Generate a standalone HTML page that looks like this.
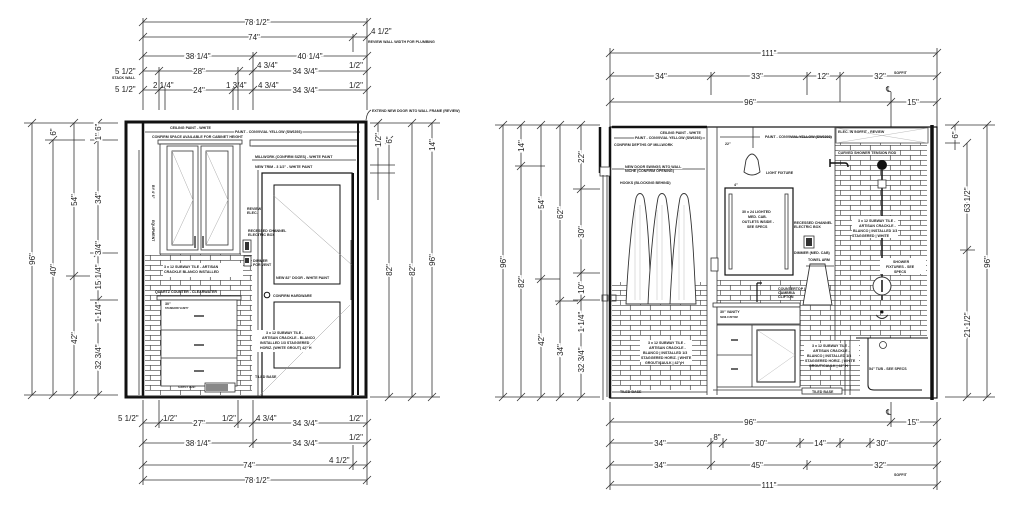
<!DOCTYPE html>
<html><head><meta charset="utf-8"><style>
html,body{margin:0;padding:0;background:#fff;}
svg{display:block}
.l{stroke:#333;stroke-width:.8;fill:none}
.k{stroke:#111;fill:none}
text{font-family:"Liberation Sans",sans-serif;fill:#222}
.t{font-size:8px;stroke:#fff;stroke-width:3;paint-order:stroke;text-anchor:middle}
.n{font-size:3.6px;font-weight:bold}
</style></head><body>
<svg width="1024" height="512" viewBox="0 0 1024 512" xmlns="http://www.w3.org/2000/svg">
<defs>
<pattern id="br" width="20" height="10" patternUnits="userSpaceOnUse">
<rect width="20" height="10" fill="#fff"/>
<path d="M0 0.3H20M0 5.3H20M0.3 0V5.3M10.3 5.3V10" stroke="#444" stroke-width=".7" fill="none"/>
</pattern>
</defs>

<g class="l">
<path d="M143 22H367M143 37H367M143 56H367M143 71H367M143 90H367"/>
<path d="M143 18V110M367 18V110M253 52V110M159 67V110M165 88V110M233 88V110M238 67V110M353 34V52"/>
<path d="M139 26l8-8M363 26l8-8M139 41l8-8M363 41l8-8M349 41l8-8M139 60l8-8M249 60l8-8M363 60l8-8M139 75l8-8M155 75l8-8M235 75l8-8M249 75l8-8M363 75l8-8M139 94l8-8M155 94l8-8M229 94l8-8M249 94l8-8M363 94l8-8"/>
</g>
<text class="t" x="257" y="25">78 1/2"</text>
<text class="t" x="254" y="40">74"</text>
<text x="371" y="34" style="font-size:8px">4 1/2"</text>
<text x="368" y="43" class="n">REVIEW WALL WIDTH FOR PLUMBING</text>
<text class="t" x="198" y="59">38 1/4"</text>
<text class="t" x="310" y="59">40 1/4"</text>
<text x="115" y="74" style="font-size:8px">5 1/2"</text>
<text x="112" y="79" class="n">STACK WALL</text>
<text class="t" x="199" y="74">28"</text>
<text x="257" y="68" style="font-size:8px">4 3/4"</text>
<text class="t" x="305" y="74">34 3/4"</text>
<text x="349" y="68" style="font-size:8px">1/2"</text>
<text x="115" y="92" style="font-size:8px">5 1/2"</text>
<text x="153" y="88" style="font-size:8px">2 1/4"</text>
<text class="t" x="199" y="93">24"</text>
<text x="226" y="88" style="font-size:8px">1 3/4"</text>
<text x="258" y="88" style="font-size:8px">4 3/4"</text>
<text class="t" x="305" y="93">34 3/4"</text>
<text x="349" y="88" style="font-size:8px">1/2"</text>
<text x="372" y="112" class="n">EXTEND NEW DOOR INTO WALL FRAME (REVIEW)</text>
<path class="l" d="M371 110q-4 2-5 10"/>

<g class="l">
<path d="M24 123H118M24 395H118M45 140H85M90 140H118M90 253H118M90 300H118M66 276H90"/>
<path d="M32 123V395M53 140V395M74 123V395M98 123V395"/>
<path d="M28 127l8-8M28 399l8-8M49 144l8-8M49 399l8-8M70 127l8-8M70 280l8-8M70 399l8-8M94 127l8-8M94 144l8-8M94 257l8-8M94 304l8-8M94 399l8-8"/>
</g>
<g style="font-size:8px">
<text class="t" transform="translate(35 259) rotate(-90)">96"</text>
<text class="t" transform="translate(56 270) rotate(-90)">40"</text>
<text class="t" transform="translate(77 200) rotate(-90)">54"</text>
<text class="t" transform="translate(77 338) rotate(-90)">42"</text>
<text class="t" transform="translate(101 132) rotate(-90)">1" 6"</text>
<text class="t" transform="translate(101 198) rotate(-90)">34"</text>
<text class="t" transform="translate(101 248) rotate(-90)">3/4"</text>
<text class="t" transform="translate(101 277) rotate(-90)">15 1/4"</text>
<text class="t" transform="translate(101 312) rotate(-90)">1 1/4"</text>
<text class="t" transform="translate(101 357) rotate(-90)">32 3/4"</text>
<text class="t" transform="translate(56 132) rotate(-90)">6"</text>
</g>

<g class="l">
<path d="M370 123H440M370 165H395M370 173H395M370 397H440"/>
<path d="M378 123V200M389 140V397M412 123V397M432 123V397"/>
<path d="M374 127l8-8M385 144l8-8M385 401l8-8M408 127l8-8M408 401l8-8M428 127l8-8M428 401l8-8"/>
</g>
<g style="font-size:8px">
<text class="t" transform="translate(392 270) rotate(-90)">82"</text>
<text class="t" transform="translate(415 270) rotate(-90)">82"</text>
<text class="t" transform="translate(435 260) rotate(-90)">96"</text>
<text class="t" transform="translate(435 145) rotate(-90)">14"</text>
<text class="t" transform="translate(381 140) rotate(-90)">1/2"</text>
<text class="t" transform="translate(392 140) rotate(-90)">6"</text>
</g>

<g class="l">
<path d="M143 423H367M143 443H367M143 465H367M143 480H367"/>
<path d="M143 400V485M367 400V485M159 400V428M238 400V428M253 400V448M353 445V470"/>
<path d="M139 427l8-8M155 427l8-8M234 427l8-8M249 427l8-8M363 427l8-8M139 447l8-8M249 447l8-8M363 447l8-8M139 469l8-8M349 469l8-8M363 469l8-8M139 484l8-8M363 484l8-8"/>
</g>
<text x="118" y="421" style="font-size:8px">5 1/2"</text>
<text x="163" y="421" style="font-size:8px">1/2"</text>
<text class="t" x="199" y="426">27"</text>
<text x="222" y="421" style="font-size:8px">1/2"</text>
<text x="256" y="421" style="font-size:8px">4 3/4"</text>
<text class="t" x="305" y="426">34 3/4"</text>
<text x="349" y="421" style="font-size:8px">1/2"</text>
<text class="t" x="198" y="446">38 1/4"</text>
<text class="t" x="305" y="446">34 3/4"</text>
<text x="349" y="440" style="font-size:8px">1/2"</text>
<text class="t" x="249" y="468">74"</text>
<text x="329" y="463" style="font-size:8px">4 1/2"</text>
<text class="t" x="257" y="483">78 1/2"</text>

<rect x="145" y="253" width="107" height="142" fill="url(#br)"/>
<rect x="126" y="122" width="240" height="275" class="k" stroke-width="3"/>
<path class="k" stroke-width="2.5" d="M143 123V397"/>
<path class="l" d="M139 150V395M128 396H366"/>
<path class="l" d="M145 132H360" />
<text x="170" y="129" class="n">CEILING PAINT - WHITE</text>
<text x="235" y="133" class="n" style="stroke:#fff;stroke-width:2;paint-order:stroke">PAINT - CONVIVIAL YELLOW (SW6393)</text>
<text x="152" y="138" class="n">CONFIRM SPACE AVAILABLE FOR CABINET HEIGHT</text>
<rect x="158" y="140" width="84" height="4" class="l" style="fill:#fff"/>
<rect x="160" y="144" width="80" height="110" class="l" style="fill:#fff"/>
<rect x="167" y="146" width="31" height="104" class="l"/>
<rect x="201" y="146" width="32" height="104" class="l"/>
<rect x="172" y="151" width="21" height="94" class="l"/>
<rect x="206" y="151" width="22" height="94" class="l"/>
<path stroke="#aaa" stroke-width=".5" fill="none" d="M172 151L193 200L172 245M206 151L228 200L206 245"/>
<path class="k" stroke-width="1.2" d="M195 236V248M203 236V248"/>
<text class="n" transform="translate(152 185) rotate(90)">BY 4' 6"</text>
<text class="n" transform="translate(152 220) rotate(90)">EQUIPMENT</text>
<rect x="163" y="263" width="80" height="14" fill="#fff"/>
<text x="164" y="268" class="n">3 x 12 SUBWAY TILE - ARTISAN</text>
<text x="164" y="273" class="n">CRACKLE BLANCO INSTALLED</text>
<text x="155" y="293" class="n">QUARTZ COUNTER - CLEARWATER</text>
<rect x="157" y="296" width="84" height="4" class="l" style="fill:#fff"/>
<rect x="161" y="300" width="76" height="86" class="l" style="fill:#fff"/>
<path class="l" d="M161 330H237M161 358H237"/>
<path class="k" stroke-width="1.3" d="M194 316H204M194 345H204M194 371H204"/>
<text x="165" y="305" class="n">30"</text>
<text x="165" y="309" class="n" style="font-size:2.5px">STANDARD VANITY</text>
<rect x="205" y="383" width="30" height="9" class="l" style="fill:#fff"/>
<path stroke="#111" stroke-width="1" d="M207 384v7M209 384v7M211 384v7M213 384v7M215 384v7M217 384v7M219 384v7M221 384v7M223 384v7M225 384v7M227 384v7"/>
<text x="178" y="388" class="n" style="font-size:2.6px">SUPPLY VENT</text>
<rect x="243" y="240" width="8" height="12" class="l" style="fill:#fff"/>
<rect x="244" y="256" width="7" height="10" class="l" style="fill:#fff"/>
<rect x="245" y="242" width="4" height="8" fill="#333"/>
<rect x="245" y="258" width="4" height="5" fill="#333"/>
<text x="247" y="210" class="n">REVIEW</text>
<text x="247" y="214" class="n">ELEC.</text>
<text x="248" y="232" class="n">RECESSED CHANNEL</text>
<text x="248" y="236" class="n">ELECTRIC BOX</text>
<text x="253" y="262" class="n">DIMMER</text>
<text x="253" y="266" class="n">FOR VENT</text>
<rect x="250" y="140" width="108" height="6" class="l" style="fill:#fff"/>
<path class="l" d="M252 146H356"/>
<text x="255" y="158" class="n">MILLWORK (CONFIRM SIZES) - WHITE PAINT</text>
<path class="l" d="M252 160H356"/>
<text x="255" y="168" class="n">NEW TRIM - 3 1/2" - WHITE PAINT</text>
<path class="l" d="M258 170V397"/>
<rect x="262" y="173" width="90" height="224" class="k" stroke-width="1.2"/>
<rect x="274" y="185" width="66" height="99" class="k" stroke-width="1"/>
<rect x="274" y="302" width="66" height="66" class="k" stroke-width="1"/>
<path stroke="#999" stroke-width=".5" fill="none" d="M273 195L352 265M260 395L350 305"/>
<circle cx="267" cy="295" r="2.8" class="k" stroke-width="1"/>
<text x="273" y="297" class="n">CONFIRM HARDWARE</text>
<text x="276" y="279" class="n">NEW 82" DOOR - WHITE PAINT</text>
<rect x="255" y="330" width="50" height="22" fill="#fff"/>
<text x="266" y="334" class="n">3 x 12 SUBWAY TILE -</text>
<text x="262" y="339" class="n">ARTISAN CRACKLE - BLANCO</text>
<text x="260" y="344" class="n">INSTALLED 1/3 STAGGERED</text>
<text x="260" y="349" class="n">HORIZ. (WHITE GROUT) 42" H</text>
<text x="255" y="378" class="n">TILED BASE</text>
<path class="k" stroke-width="2" d="M353 173V395M358 123V395"/>
<path class="l" d="M351 240V300"/>

<!-- RIGHT -->
<g class="l">
<path d="M610 53H937M610 76H937M610 102H937"/>
<path d="M610 48V127M937 48V127M711 72V95M807 72V95M840 72V102M891 92V127"/>
<path d="M606 57l8-8M933 57l8-8M606 80l8-8M707 80l8-8M803 80l8-8M836 80l8-8M933 80l8-8M606 106l8-8M887 106l8-8M933 106l8-8"/>
</g>
<text class="t" x="769" y="56">111"</text>
<text class="t" x="661" y="79">34"</text>
<text class="t" x="757" y="79">33"</text>
<text class="t" x="823" y="79">12"</text>
<text class="t" x="880" y="79">32"</text>
<text x="894" y="74" class="n">SOFFIT</text>
<text class="t" x="750" y="105">96"</text>
<text class="t" x="913" y="105">15"</text>
<text x="886" y="92" style="font-size:8px">℄</text>

<g class="l">
<path d="M495 125H600M495 397H600M515 166H545M535 279H560M555 301H578M573 189H600M573 273H600M573 300H600"/>
<path d="M503 125V397M521 125V397M541 125V397M560 125V397M581 125V397"/>
<path d="M499 129l8-8M499 401l8-8M517 129l8-8M517 170l8-8M517 401l8-8M537 129l8-8M537 283l8-8M537 401l8-8M556 129l8-8M556 305l8-8M556 401l8-8M577 129l8-8M577 193l8-8M577 277l8-8M577 304l8-8M577 401l8-8"/>
</g>
<g style="font-size:8px">
<text class="t" transform="translate(506 262) rotate(-90)">96"</text>
<text class="t" transform="translate(524 146) rotate(-90)">14"</text>
<text class="t" transform="translate(524 282) rotate(-90)">82"</text>
<text class="t" transform="translate(544 203) rotate(-90)">54"</text>
<text class="t" transform="translate(544 340) rotate(-90)">42"</text>
<text class="t" transform="translate(563 213) rotate(-90)">62"</text>
<text class="t" transform="translate(563 350) rotate(-90)">34"</text>
<text class="t" transform="translate(584 157) rotate(-90)">22"</text>
<text class="t" transform="translate(584 232) rotate(-90)">30"</text>
<text class="t" transform="translate(584 288) rotate(-90)">10"</text>
<text class="t" transform="translate(584 322) rotate(-90)">1 1/4"</text>
<text class="t" transform="translate(584 360) rotate(-90)">32 3/4"</text>
</g>

<g class="l">
<path d="M945 125H995M945 143H960M945 397H995M960 250H975"/>
<path d="M955 125V150M967 143V397M987 125V397"/>
<path d="M951 129l8-8M963 147l8-8M963 254l8-8M963 401l8-8M983 129l8-8M983 401l8-8"/>
</g>
<g style="font-size:8px">
<text class="t" transform="translate(958 135) rotate(-90)">6"</text>
<text class="t" transform="translate(970 200) rotate(-90)">63 1/2"</text>
<text class="t" transform="translate(970 325) rotate(-90)">21 1/2"</text>
<text class="t" transform="translate(990 262) rotate(-90)">96"</text>
</g>

<g class="l">
<path d="M610 422H937M610 443H937M610 465H937M610 485H937"/>
<path d="M610 402V490M937 402V490M891 402V427M711 438V470M723 438V448M800 438V448M840 438V448M870 438V448M807 460V470"/>
<path d="M606 426l8-8M887 426l8-8M933 426l8-8M606 447l8-8M707 447l8-8M719 447l8-8M796 447l8-8M836 447l8-8M866 447l8-8M933 447l8-8M606 469l8-8M707 469l8-8M803 469l8-8M933 469l8-8M606 489l8-8M933 489l8-8"/>
</g>
<text class="t" x="750" y="425">96"</text>
<text class="t" x="913" y="425">15"</text>
<text x="886" y="415" style="font-size:8px">℄</text>
<text class="t" x="660" y="446">34"</text>
<text class="t" x="717" y="440">8"</text>
<text class="t" x="761" y="446">30"</text>
<text class="t" x="820" y="446">14"</text>
<text class="t" x="882" y="446">30"</text>
<text class="t" x="660" y="468">34"</text>
<text class="t" x="757" y="468">45"</text>
<text class="t" x="880" y="468">32"</text>
<text x="894" y="476" class="n">SOFFIT</text>
<text class="t" x="769" y="488">111"</text>

<rect x="612" y="282" width="95" height="108" fill="url(#br)"/>
<rect x="717" y="280" width="120" height="25" fill="url(#br)"/>
<rect x="800" y="305" width="60" height="85" fill="url(#br)"/>
<rect x="835" y="143" width="92" height="195" fill="url(#br)"/>
<rect x="610" y="127" width="327" height="271" class="k" stroke-width="1.2"/>
<path class="k" stroke-width="2.5" d="M600 127V173M610 127V398M612 127H707"/>
<rect x="600" y="167" width="10" height="9" class="l" style="fill:#fff"/>
<path class="k" stroke-width="3.5" d="M932 125V400"/>
<path class="l" d="M707 127V395M717 127V395M835 127V340M612 392H707M713 390H860"/>
<path class="l" d="M607 175V397M603 175V400"/>
<text x="660" y="134" class="n">CEILING PAINT - WHITE</text>
<path class="l" d="M614 138H705"/>
<text x="635" y="139" class="n" style="stroke:#fff;stroke-width:2;paint-order:stroke">PAINT - CONVIVIAL YELLOW (SW6393)</text>
<text x="614" y="146" class="n">CONFIRM DEPTHS OF MILLWORK</text>
<path class="l" d="M612 169H705"/>
<text x="625" y="168" class="n" style="stroke:#fff;stroke-width:2;paint-order:stroke">NEW DOOR SWINGS INTO WALL</text>
<text x="625" y="172" class="n">NICHE (CONFIRM OPENING)</text>
<text x="620" y="184" class="n">HOOKS (BLOCKING BEHIND)</text>
<g fill="#fff" stroke="#333" stroke-width=".9">
<path d="M626 304C628 260 632 220 636 198C638 192 642 192 644 198C648 220 650 260 651 304Z"/>
<path d="M648 304C650 260 654 220 658 198C660 192 664 192 666 198C670 220 672 260 673 304Z"/>
<path d="M670 304C672 260 676 220 680 198C682 192 686 192 688 198C692 220 694 260 696 304Z"/>
</g>
<path stroke="#aaa" stroke-width=".4" fill="none" d="M635 210V300M640 205V300M657 210V300M662 205V300M679 210V300M684 205V300"/>
<rect x="640" y="340" width="52" height="22" fill="#fff"/>
<text x="648" y="344" class="n">3 x 12 SUBWAY TILE -</text>
<text x="649" y="349" class="n">ARTISAN CRACKLE -</text>
<text x="643" y="354" class="n">BLANCO | INSTALLED 1/3</text>
<text x="641" y="359" class="n">STAGGERED HORIZ. | WHITE</text>
<text x="645" y="364" class="n">GROUT/CAULK | 42" H</text>
<text x="620" y="393" class="n">TILED BASE</text>
<rect x="602" y="295" width="6" height="6" class="l"/>
<rect x="611" y="295" width="5" height="6" class="l"/>
<text x="765" y="138" class="n">PAINT - CONVIVIAL YELLOW (SW6393)</text>
<path class="l" d="M720 137H760M790 137H832"/>
<text x="725" y="145" class="n">22"</text>
<path class="l" d="M753 127V148"/>
<path d="M746 160Q752 148 758 160L760 172Q752 178 744 172Z" fill="#fff" stroke="#333" stroke-width=".9"/>
<text x="766" y="174" class="n">LIGHT FIXTURE</text>
<text x="734" y="186" class="n">4"</text>
<rect x="725" y="188" width="68" height="87" class="k" stroke-width="1.2" style="fill:#fff"/>
<rect x="729" y="194" width="3" height="75" class="l"/>
<rect x="785" y="194" width="3" height="75" class="l"/>
<text x="742" y="213" class="n">30 x 24 LIGHTED</text>
<text x="748" y="218" class="n">MED. CAB.</text>
<text x="742" y="223" class="n">OUTLETS INSIDE -</text>
<text x="747" y="228" class="n">SEE SPECS</text>
<text x="794" y="224" class="n">RECESSED CHANNEL</text>
<text x="794" y="228" class="n">ELECTRIC BOX</text>
<rect x="804" y="236" width="10" height="12" class="l" style="fill:#fff"/>
<rect x="806" y="238" width="6" height="8" fill="#333"/>
<text x="794" y="254" class="n">DIMMER (MED. CAB)</text>
<rect x="711" y="258" width="7" height="13" class="l" style="fill:#fff"/>
<text x="808" y="261" class="n">TOWEL ARM</text>
<path d="M810 264L825 264L832 305L803 305Z" fill="#fff" stroke="#333" stroke-width=".9"/>
<path class="l" d="M806 266H834"/>
<rect x="713" y="303" width="87" height="4" class="l" style="fill:#fff"/>
<path class="k" stroke-width="1.2" d="M757 283V302M757 283H762"/>
<text x="778" y="290" class="n">COUNTERTOP |</text>
<text x="778" y="294" class="n">CAMBRIA</text>
<text x="778" y="298" class="n">CLIFTON</text>
<rect x="717" y="307" width="83" height="17" class="l" style="fill:#fff"/>
<text x="720" y="313" class="n">30" VANITY</text>
<text x="720" y="318" class="n" style="font-size:2.5px">SEMI-CUSTOM</text>
<rect x="717" y="325" width="83" height="62" class="l" style="fill:#fff"/>
<path class="l" d="M752 325V387M717 355H752"/>
<path class="k" stroke-width="1.3" d="M731 340H738M731 369H738"/>
<rect x="757" y="330" width="38" height="52" class="k" stroke-width="1"/>
<path stroke="#aaa" stroke-width=".4" fill="none" d="M757 330L795 355L757 382"/>
<rect x="802" y="388" width="40" height="6" class="l" style="fill:#fff"/>
<text x="812" y="393" class="n">TILED BASE</text>
<rect x="804" y="343" width="55" height="22" fill="#fff"/>
<text x="812" y="347" class="n">3 x 12 SUBWAY TILE -</text>
<text x="813" y="352" class="n">ARTISAN CRACKLE -</text>
<text x="807" y="357" class="n">BLANCO | INSTALLED 1/3</text>
<text x="805" y="362" class="n">STAGGERED HORIZ. | WHITE</text>
<text x="809" y="367" class="n">GROUT/CAULK | 42" H</text>
<rect x="836" y="128" width="92" height="15" fill="#fff" stroke="#333" stroke-width=".7"/>
<path stroke="#aaa" stroke-width=".4" d="M836 128L928 143M836 143L928 128"/>
<text x="838" y="133" class="n">ELEC. IN SOFFIT - REVIEW</text>
<text x="838" y="154" class="n" style="stroke:#fff;stroke-width:2;paint-order:stroke">CURVED SHOWER TENSION ROD</text>
<path class="k" stroke-width="1.5" d="M830 163H845Q848 163 848 167M830 159V167"/>
<circle cx="882" cy="165" r="5" fill="#111"/>
<path class="k" stroke-width="1.5" d="M882 170V300"/>
<rect x="878" y="180" width="8" height="8" class="l" style="fill:#fff"/>
<rect x="852" y="216" width="46" height="22" fill="#fff"/>
<text x="858" y="222" class="n">3 x 12 SUBWAY TILE -</text>
<text x="859" y="227" class="n">ARTISAN CRACKLE -</text>
<text x="853" y="232" class="n">BLANCO | INSTALLED 1/3</text>
<text x="852" y="237" class="n">STAGGERED | WHITE</text>
<rect x="880" y="258" width="46" height="16" fill="#fff"/>
<text x="893" y="263" class="n">SHOWER</text>
<text x="886" y="268" class="n">FIXTURES - SEE</text>
<text x="894" y="273" class="n">SPECS</text>
<circle cx="882" cy="286" r="9" fill="#fff" stroke="#333" stroke-width=".9"/>
<path class="k" stroke-width="1.5" d="M882 280V292"/>
<path d="M876 315Q882 322 888 315" stroke="#333" fill="none"/>
<circle cx="882" cy="312" r="1.5" fill="#111"/>
<rect x="860" y="338" width="68" height="52" fill="#fff" stroke="none"/>
<path class="k" stroke-width="1" d="M856 338H928M868 338V385Q868 390 874 390H922"/>
<circle cx="883" cy="345" r="3.5" class="l"/>
<text x="869" y="370" class="n">54" TUB - SEE SPECS</text>
<path class="l" d="M845 340V395M850 340V395"/>
</svg>
</body></html>
